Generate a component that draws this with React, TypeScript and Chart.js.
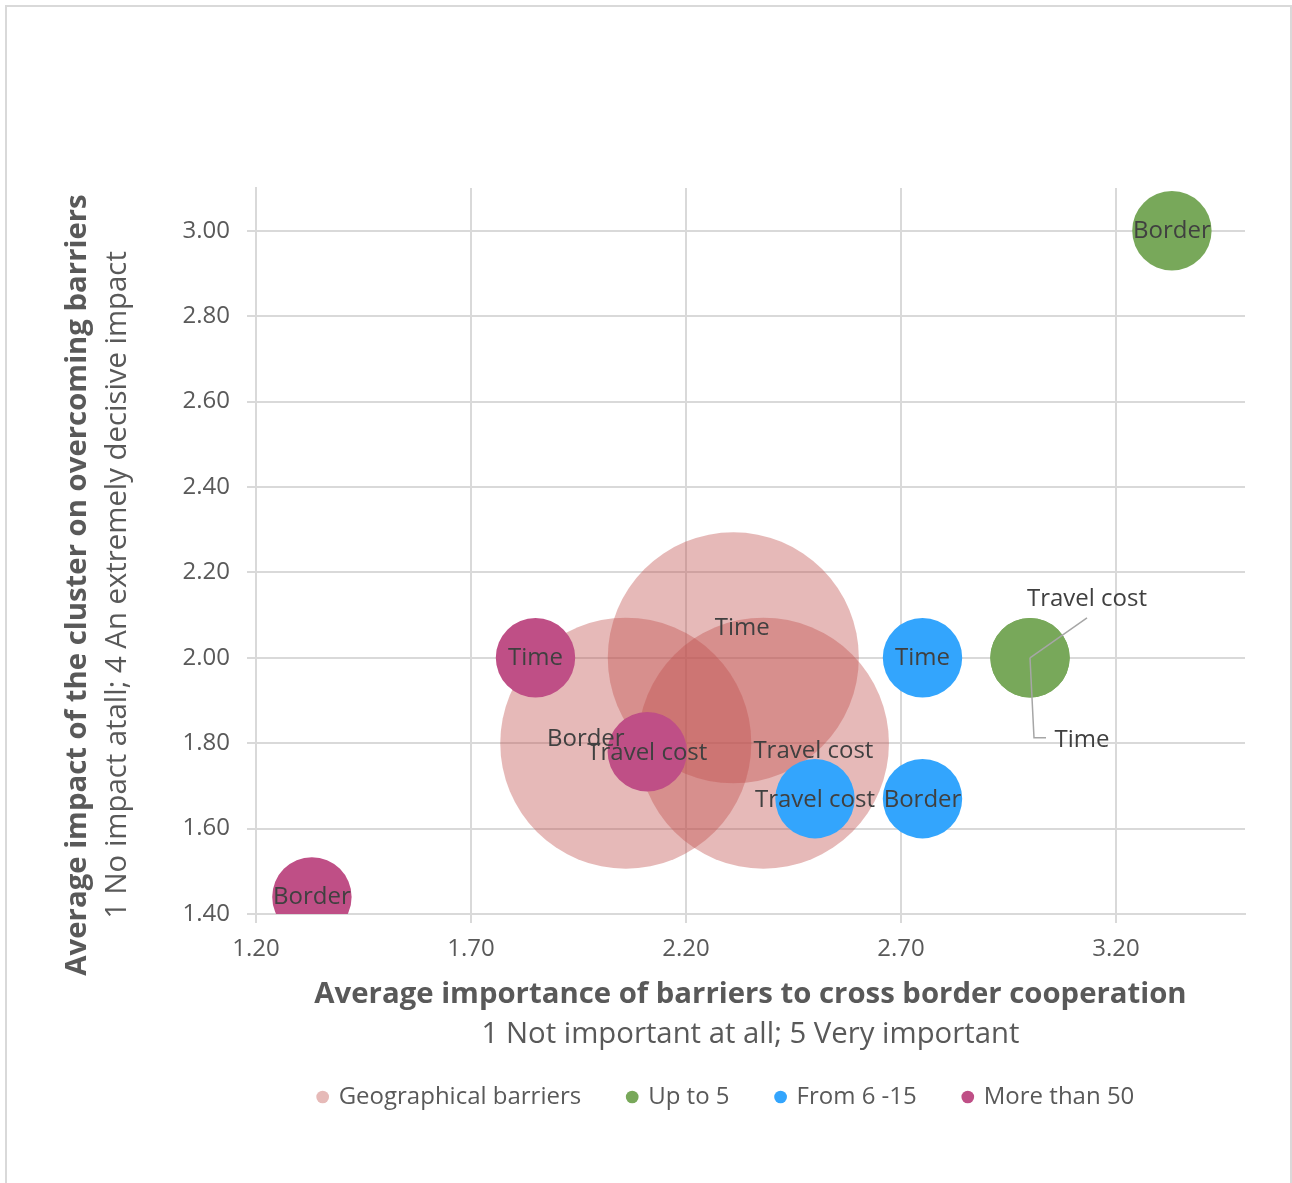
import React, { useEffect, useRef } from "react";
import { Chart, registerables } from "chart.js";

Chart.register(...registerables);

// ---------- data ----------
const seriesNames = ["Geographical barriers", "Up to 5", "From 6 -15", "More than 50"];

const geoLabels = ["Time", "Border", "Travel cost"];
const geoX = [2.31, 2.06, 2.38];
const geoY = [2.0, 1.8, 1.8];
const geoSize = [10, 10, 10];

const upTo5Labels = ["Border", "Travel cost", "Time"];
const upTo5X = [3.33, 3.0, 3.0];
const upTo5Y = [3.0, 2.0, 2.0];
const upTo5Size = [1, 1, 1];

const from6Labels = ["Time", "Travel cost", "Border"];
const from6X = [2.75, 2.5, 2.75];
const from6Y = [2.0, 1.67, 1.67];
const from6Size = [1, 1, 1];

const more50Labels = ["Time", "Travel cost", "Border"];
const more50X = [1.85, 2.11, 1.33];
const more50Y = [2.0, 1.78, 1.44];
const more50Size = [1, 1, 1];

const xMin = 1.2;
const xMax = 3.5;
const xTicks = [1.2, 1.7, 2.2, 2.7, 3.2];
const yMin = 1.4;
const yMax = 3.1;
const yTicks = [1.4, 1.6, 1.8, 2.0, 2.2, 2.4, 2.6, 2.8, 3.0];

const xTitle = ["Average importance of barriers to cross border cooperation", "1 Not important at all; 5 Very important"];
const yTitle = ["Average impact of the cluster on overcoming barriers", "1 No impact atall; 4 An extremely decisive impact"];

// ---------- style ----------
const FONT = '"Open Sans", "Noto Sans", sans-serif';
const TEXT = "#595959";
const LABEL = "#404040";
const GRID = "#d9d9d9";
const colors = ["rgba(192,80,77,0.4)", "#78A85A", "#33A5FD", "#BF4F86"];
const legendColors = ["#E6BAB8", "#78A85A", "#33A5FD", "#BF4F86"];
const RADIUS_UNIT = 39.7; // px radius for size 1
const TITLE_SIZE = 29.33;

// label placement (pixel offsets from bubble centre), with optional leader lines
type Place = { dx: number; dy: number; leader?: number[][] };
const labelPlacement: Place[][] = [
  [{ dx: 9, dy: -30 }, { dx: -40, dy: -4 }, { dx: 50, dy: 8 }],
  [
    { dx: 0, dy: 0 },
    { dx: 57, dy: -59, leader: [[0, 0], [57, -40]] },
    { dx: 52, dy: 82, leader: [[0, 0], [4, 80], [16, 80]] },
  ],
  [{ dx: 0, dy: 0 }, { dx: 0, dy: 1 }, { dx: 0, dy: 1 }],
  [{ dx: 0, dy: 0 }, { dx: 0, dy: 1 }, { dx: 0, dy: 0 }],
];

const LEGEND_SHIFT = -24;

function points(xs: number[], ys: number[], sizes: number[]) {
  return xs.map((x, i) => ({ x, y: ys[i], r: RADIUS_UNIT * Math.sqrt(sizes[i]) }));
}

const allLabels = [geoLabels, upTo5Labels, from6Labels, more50Labels];

const labelPlugin = {
  id: "bubbleLabels",
  afterDatasetsDraw(chart: any) {
    const ctx = chart.ctx;
    ctx.save();
    ctx.font = `24px ${FONT}`;
    ctx.fillStyle = LABEL;
    ctx.textAlign = "center";
    ctx.textBaseline = "middle";
    chart.data.datasets.forEach((_ds: any, di: number) => {
      const meta = chart.getDatasetMeta(di);
      meta.data.forEach((el: any, i: number) => {
        const p = labelPlacement[di][i];
        const { x, y } = el;
        if (p.leader) {
          ctx.beginPath();
          ctx.strokeStyle = "#a6a6a6";
          ctx.lineWidth = 1.5;
          p.leader.forEach((pt, k) => {
            if (k === 0) ctx.moveTo(x + pt[0], y + pt[1]);
            else ctx.lineTo(x + pt[0], y + pt[1]);
          });
          ctx.stroke();
        }
        ctx.fillText(allLabels[di][i], x + p.dx, y + p.dy);
      });
    });
    ctx.restore();
  },
};

const titlePlugin = {
  id: "axisTitles",
  afterLayout(chart: any) {
    if (chart.legend) {
      chart.legend.left += LEGEND_SHIFT;
      chart.legend.right += LEGEND_SHIFT;
    }
  },
  afterDraw(chart: any) {
    const ctx = chart.ctx;
    const a = chart.chartArea;
    const cx = (a.left + a.right) / 2;
    ctx.save();
    ctx.fillStyle = TEXT;
    ctx.textAlign = "center";
    ctx.textBaseline = "middle";
    ctx.font = `bold ${TITLE_SIZE}px ${FONT}`;
    ctx.fillText(xTitle[0], cx, 995);
    ctx.font = `${TITLE_SIZE}px ${FONT}`;
    ctx.fillText(xTitle[1], cx, 1035);
    ctx.translate(0, 585);
    ctx.rotate(-Math.PI / 2);
    ctx.font = `bold ${TITLE_SIZE}px ${FONT}`;
    ctx.fillText(yTitle[0], 0, 78);
    ctx.font = `${TITLE_SIZE}px ${FONT}`;
    ctx.fillText(yTitle[1], 0, 118);
    ctx.restore();
  },
};

export default function App() {
  const ref = useRef<HTMLCanvasElement>(null);
  useEffect(() => {
    const datasets = [
      points(geoX, geoY, geoSize),
      points(upTo5X, upTo5Y, upTo5Size),
      points(from6X, from6Y, from6Size),
      points(more50X, more50Y, more50Size),
    ].map((data, i) => ({
      label: seriesNames[i],
      data,
      backgroundColor: colors[i],
      borderWidth: 0,
      clip: 0,
      order: 3 - i,
    }));
    const chart = new Chart(ref.current!, {
      type: "bubble",
      data: { datasets },
      plugins: [labelPlugin, titlePlugin],
      options: {
        responsive: false,
        animation: false,
        layout: { autoPadding: false, padding: { left: 0, top: 188, right: 47, bottom: 64 } },
        scales: {
          x: {
            type: "linear",
            min: xMin,
            max: xMax,
            afterBuildTicks: (s: any) => {
              s.ticks = xTicks.map((v) => ({ value: v }));
            },
            afterFit: (s: any) => {
              s.height = 124;
              s.paddingLeft = 0;
              s.paddingRight = 0;
            },
            ticks: {
              padding: 12,
              color: TEXT,
              font: { family: FONT, size: 24 },
              callback: (v: any) => Number(v).toFixed(2),
            },
            grid: { color: GRID, lineWidth: 2, tickLength: 9, drawTicks: true },
            border: { color: GRID, width: 2 },
          },
          y: {
            type: "linear",
            min: yMin,
            max: yMax,
            afterBuildTicks: (s: any) => {
              s.ticks = yTicks.map((v) => ({ value: v }));
            },
            afterFit: (s: any) => {
              s.width = 256;
              s.paddingTop = 0;
              s.paddingBottom = 0;
            },
            ticks: {
              padding: 17,
              color: TEXT,
              font: { family: FONT, size: 24 },
              callback: (v: any) => Number(v).toFixed(2),
            },
            grid: { color: GRID, lineWidth: 2, tickLength: 9, drawTicks: true },
            border: { color: GRID, width: 2 },
          },
        },
        plugins: {
          tooltip: { enabled: false },
          legend: {
            position: "bottom",
            fullSize: false,
            labels: {
              usePointStyle: true,
              pointStyle: "circle",
              boxWidth: 8,
              boxHeight: 9,
              padding: 47,
              color: TEXT,
              font: { family: FONT, size: 24 },
              generateLabels: (c: any) =>
                c.data.datasets.map((d: any, i: number) => ({
                  text: d.label,
                  fillStyle: legendColors[i],
                  strokeStyle: legendColors[i],
                  lineWidth: 0,
                  pointStyle: "circle",
                  datasetIndex: i,
                  hidden: false,
                  fontColor: TEXT,
                })),
            },
          },
        },
      } as any,
    });
    return () => chart.destroy();
  }, []);
  return (
    <div
      style={{
        position: "absolute",
        left: 0,
        top: 0,
        width: 1292,
        height: 1183,
        overflow: "hidden",
        background: "#fff",
      }}
    >
      <div
        style={{
          position: "absolute",
          left: 5,
          top: 5,
          width: 1283,
          height: 1220,
          border: "2px solid #d9d9d9",
        }}
      />
      <canvas
        ref={ref}
        width={1292}
        height={1183}
        style={{ position: "absolute", left: 0, top: 0, display: "block" }}
      />
    </div>
  );
}
